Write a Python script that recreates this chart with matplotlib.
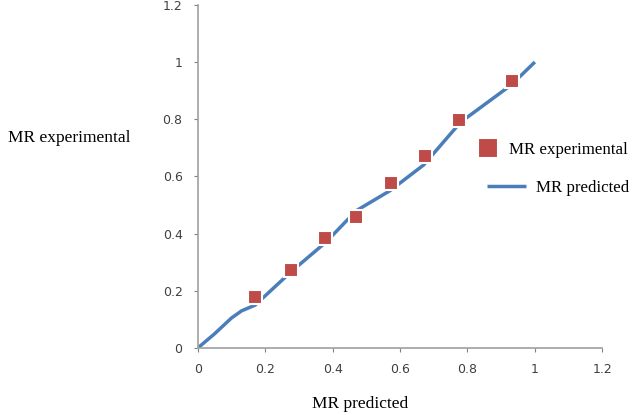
import matplotlib
matplotlib.use("Agg")
import matplotlib.pyplot as plt

# experimental points
mr_pred_exp = [0.169, 0.276, 0.377, 0.469, 0.573, 0.674, 0.775, 0.933]
mr_exp = [0.180, 0.273, 0.385, 0.458, 0.577, 0.671, 0.797, 0.934]

# predicted line
line_x = [0.0, 0.05, 0.10, 0.13, 0.17, 0.28, 0.38, 0.47, 0.57, 0.67, 0.78, 0.93, 1.0]
line_y = [0.0, 0.05, 0.105, 0.13, 0.15, 0.27, 0.37, 0.48, 0.55, 0.64, 0.79, 0.92, 1.0]

xticks = [0, 0.2, 0.4, 0.6, 0.8, 1, 1.2]
yticks = [0, 0.2, 0.4, 0.6, 0.8, 1, 1.2]
ticklabels = ["0", "0.2", "0.4", "0.6", "0.8", "1", "1.2"]

serif = "Liberation Serif"
blue = "#4a7ebb"
red = "#be4b48"

fig = plt.figure(figsize=(6.36, 4.15), dpi=100)
ax = fig.add_axes([0.311, 0.1614, 0.636, 0.827])

line, = ax.plot(line_x, line_y, color=blue, lw=2.5, solid_capstyle="butt", zorder=2)
pts, = ax.plot(mr_pred_exp, mr_exp, ls="none", marker="s", ms=10, color=red,
               markeredgecolor="white", markeredgewidth=1.5, zorder=3)

ax.set_xlim(0, 1.2)
ax.set_ylim(0, 1.2)
ax.set_xticks(xticks)
ax.set_yticks(yticks)
ax.set_xticklabels(ticklabels)
ax.set_yticklabels(ticklabels)
ax.tick_params(labelsize=9, colors="#808080", length=3, width=0.8, pad=8)
for lab in ax.get_xticklabels() + ax.get_yticklabels():
    lab.set_color("#404040")

for s in ["top", "right"]:
    ax.spines[s].set_visible(False)
for s in ["left", "bottom"]:
    ax.spines[s].set_color("#a0a0a0")
    ax.spines[s].set_linewidth(1.2)

fig.text(8 / 636, 1 - 138 / 415, "MR experimental", family=serif, fontsize=12.5,
         ha="left", va="center")
fig.text(360 / 636, 1 - 404 / 415, "MR predicted", family=serif, fontsize=12.5,
         ha="center", va="center")

# legend: two entries placed separately, texts end near the right edge
leg_font = {"family": serif, "size": 12.2}
leg1 = ax.legend([pts], ["MR experimental"], loc="center left",
                 bbox_to_anchor=(480 / 636, 1 - 150 / 415),
                 bbox_transform=fig.transFigure, frameon=False,
                 borderpad=0, borderaxespad=0, prop=leg_font,
                 handlelength=0.9, handletextpad=0.8, markerscale=1.5)
ax.add_artist(leg1)
leg2 = ax.legend([line], ["MR predicted"], loc="center left",
                 bbox_to_anchor=(487 / 636, 1 - 188 / 415),
                 bbox_transform=fig.transFigure, frameon=False,
                 borderpad=0, borderaxespad=0, prop=leg_font,
                 handlelength=2.3, handletextpad=0.6)

fig.savefig("out.png", dpi=100)
